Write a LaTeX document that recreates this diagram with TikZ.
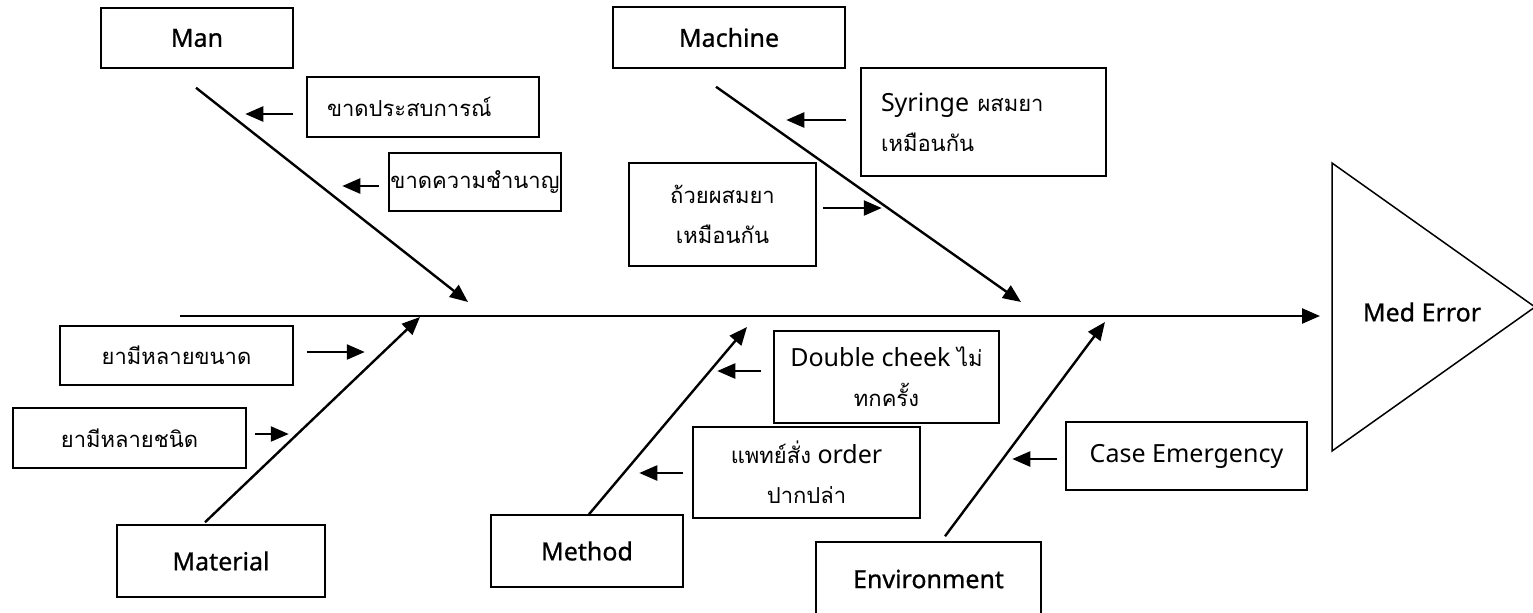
\documentclass[tikz,border=0pt]{standalone}
\usepackage{fontspec}
\setmainfont{Noto Sans}
\newfontfamily\thaifont[Script=Thai,Scale=0.88]{Loma}
\newfontfamily\catfont[FakeBold=0.8]{Noto Sans}
\usetikzlibrary{arrows.meta}
\begin{document}
\begin{tikzpicture}[x=0.5pt, y=-0.5pt,
    font=\fontsize{12.5}{20}\selectfont,
    box/.style={draw, line width=0.75pt, inner sep=0pt},
    cat/.style={box, font=\fontsize{12.5}{20}\selectfont\catfont},
    thai/.style={font=\fontsize{12.5}{20}\selectfont\thaifont},
    bone/.style={line width=1.2pt, -{Triangle[length=9pt, width=7.5pt]}}]
  \useasboundingbox (0,0) rectangle (1533,612);

  % head of the fish
  \draw [line width=0.75pt] (1332,163) -- (1535,307) -- (1332,451) -- cycle;
  \node [font=\fontsize{12.5}{20}\selectfont\catfont] (effect) at (1422,312) {Med Error};
  \coordinate (tail) at (180,316);
  \coordinate (head) at (1332,316);
  \draw [bone, shorten >=6pt] (tail) -- (head);

  % main causes
  \node [cat, minimum width=96pt, minimum height=30pt] (man) at (197,38) {Man};
  \node [cat, minimum width=116pt, minimum height=30.5pt] (machine) at (729,37.5) {Machine};
  \node [cat, minimum width=104pt, minimum height=36pt] (material) at (221,561) {Material};
  \node [cat, minimum width=96pt, minimum height=36pt] (method) at (587,551) {Method};
  \node [cat, minimum width=112.5pt, minimum height=37pt] (environment) at (928.5,579) {Environment};

  \coordinate (manTip) at (468,302);
  \coordinate (machineTip) at (1021,302);
  \coordinate (materialTip) at (420,317);
  \coordinate (methodTip) at (747,327);
  \coordinate (environmentTip) at (1105,322);

  \draw [bone] ([shift={(-1,19)}]man.south) -- (manTip);
  \draw [bone] ([shift={(-13,18)}]machine.south) -- (machineTip);
  \draw [bone] ([shift={(-16,-2)}]material.north) -- (materialTip);
  \draw [bone] ([shift={(2,0)}]method.north) -- (methodTip);
  \draw [bone] ([shift={(16.5,-5)}]environment.north) -- (environmentTip);

  % sub causes
  \node [box, thai, inner xsep=10pt, text width=96pt, align=left, minimum height=30pt] (exp) at (423,107) {ขาดประสบการณ์};
  \node [box, thai, minimum width=86pt, minimum height=29pt] (skill) at (475,182) {ขาดความชำนาญ};
  \node [box, inner xsep=10pt, text width=102.5pt, align=left, minimum height=54pt] (syringe) at (983.5,122)
    {Syringe {\thaifont ผสมยา}\\{\thaifont เหมือนกัน}};
  \node [box, thai, minimum width=93.5pt, minimum height=51.5pt, align=center] (cup) at (722.5,214.5)
    {ถ้วยผสมยา\\เหมือนกัน};
  \node [box, thai, minimum width=116.5pt, minimum height=29.5pt] (sizes) at (176.5,355.5) {ยามีหลายขนาด};
  \node [box, thai, minimum width=116.5pt, minimum height=30pt] (kinds) at (129.5,438) {ยามีหลายชนิด};
  \node [box, minimum width=112.5pt, minimum height=46pt, align=center] (check) at (886.5,377)
    {Double cheek {\thaifont ไม่}\\{\thaifont ทกครั้ง}};
  \node [box, minimum width=113.5pt, minimum height=45.5pt, align=center] (order) at (806.5,472.5)
    {{\thaifont แพทย์สั่ง} order\\{\thaifont ปากปล่า}};
  \node [box, minimum width=120.5pt, minimum height=34pt] (emergency) at (1186.5,456) {Case Emergency};

  \draw [bone] ([shift={(-13,7)}]exp.west) -- ++(-48,0);
  \draw [bone] ([shift={(-9,4)}]skill.west) -- ++(-37,0);
  \draw [bone] ([shift={(-14,-2)}]syringe.west) -- ++(-60,0);
  \draw [bone] ([shift={(6,-6.5)}]cup.east) -- ++(59,0);
  \draw [bone] ([shift={(13,-3.5)}]sizes.east) -- ++(58,0);
  \draw [bone] ([shift={(8,-4)}]kinds.east) -- ++(34,0);
  \draw [bone] ([shift={(-12,-6)}]check.west) -- ++(-44,0);
  \draw [bone] ([shift={(-9,0.5)}]order.west) -- ++(-44,0);
  \draw [bone] ([shift={(-8,3)}]emergency.west) -- ++(-45,0);
\end{tikzpicture}
\end{document}
